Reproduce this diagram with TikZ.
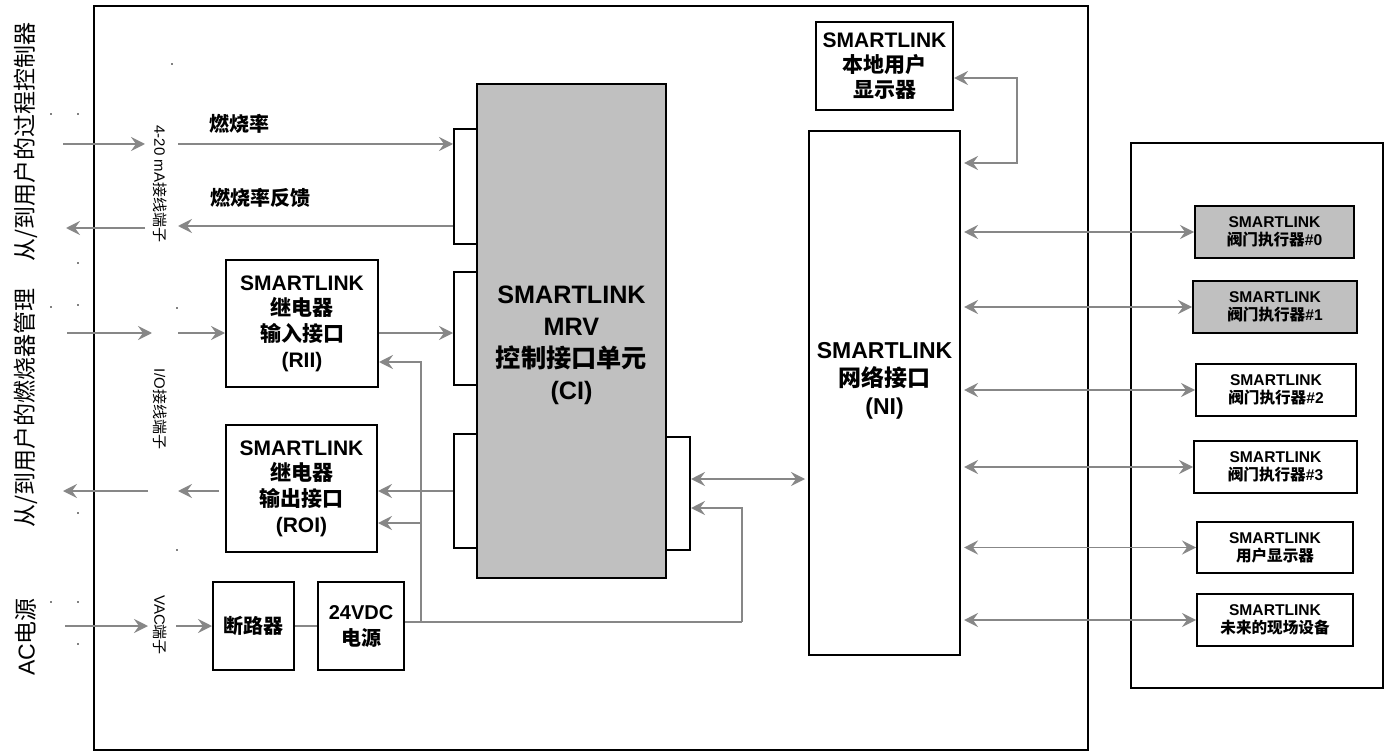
\documentclass[tikz,border=0pt]{standalone}
\usepackage{fontspec}
\setmainfont{Liberation Sans}
\newfontfamily\cjk{Noto Sans CJK SC}
\usetikzlibrary{arrows.meta}
\definecolor{lg}{RGB}{135,135,135}
\definecolor{cifill}{RGB}{192,192,192}
\newcommand\zh[1]{{\cjk #1}}
\newcommand\fs[2]{\fontsize{#1}{#2}\selectfont}
\begin{document}
\begin{tikzpicture}[x=0.5pt,y=-0.5pt,
 box/.style={draw, line width=1pt, fill=white, inner sep=0pt, align=center, font=\bfseries},
 tip/.tip={Stealth[length=7pt,width=7pt,inset=2.5pt]},
 arr/.style={draw=lg, line width=0.9pt, -tip},
 darr/.style={draw=lg, line width=0.9pt, tip-tip},
 gline/.style={draw=lg, line width=0.9pt},
 side/.style={font=\fs{11.5}{14}, rotate=90, inner sep=0pt},
 term/.style={font=\fs{7.5}{9}, rotate=-90, inner sep=0pt},
 dev/.style={box, minimum height=26pt, font=\bfseries\fs{7.8}{9}},
]
\useasboundingbox (0,0) rectangle (1386,754);

% containers
\node[box, line width=0.8pt, minimum width=497pt, minimum height=372pt] (main) at (591,378) {};
\node[box, line width=0.8pt, minimum width=126pt, minimum height=272.5pt] (ext) at (1257,415.5) {};

% control interface
\node[box, fill=cifill, minimum width=94.5pt, minimum height=247pt] (CI) at (571.5,331) {};
\node[align=center, font=\bfseries\fs{12.6}{16}] (CIt) at (571.5,345) {SMARTLINK\\MRV\\\zh{控制接口单元}\\(CI)};
\node[box, minimum width=11.5pt, minimum height=57.5pt] (t1) at (465.5,186.5) {};
\node[box, minimum width=11.5pt, minimum height=56.5pt] (t2) at (465.5,328.5) {};
\node[box, minimum width=11.5pt, minimum height=57pt] (t3) at (465.5,491) {};
\node[box, minimum width=12pt, minimum height=56.5pt] (t4) at (678,493.5) {};

% network interface
\node[box, minimum width=75.5pt, minimum height=262pt] (NI) at (884.5,393) {};
\node[align=center, font=\bfseries\fs{11.5}{14}] (NIt) at (884.5,381) {SMARTLINK\\\zh{网络接口}\\(NI)};
\node[box, minimum width=68.5pt, minimum height=44pt, font=\bfseries\fs{10.5}{12.5}] (LD) at (884.5,66) {SMARTLINK\\\zh{本地用户}\\\zh{显示器}};

% relay interfaces
\node[box, minimum width=76pt, minimum height=63.5pt, font=\bfseries\fs{10.5}{12.8}] (RII) at (302,323.5) {SMARTLINK\\\zh{继电器}\\\zh{输入接口}\\(RII)};
\node[box, minimum width=75.5pt, minimum height=63.5pt, font=\bfseries\fs{10.5}{12.8}] (ROI) at (301.5,488.5) {SMARTLINK\\\zh{继电器}\\\zh{输出接口}\\(ROI)};

% power
\node[box, minimum width=40.5pt, minimum height=44pt, font=\bfseries\fs{10}{12}] (BRK) at (253.5,626) {\zh{断路器}};
\node[box, minimum width=43pt, minimum height=44pt, font=\bfseries\fs{10}{13}] (PSU) at (361,626) {24VDC\\\zh{电源}};

% field devices
\node[dev, fill=cifill, minimum width=79.5pt] (D0) at (1274.5,232) {SMARTLINK\\\zh{阀门执行器}\#0};
\node[dev, fill=cifill, minimum width=82pt] (D1) at (1275,307) {SMARTLINK\\\zh{阀门执行器}\#1};
\node[dev, minimum width=80pt] (D2) at (1276,390) {SMARTLINK\\\zh{阀门执行器}\#2};
\node[dev, minimum width=81.5pt] (D3) at (1275.5,467) {SMARTLINK\\\zh{阀门执行器}\#3};
\node[dev, minimum width=78pt, minimum height=25.5pt] (D4) at (1275,547.5) {SMARTLINK\\\zh{用户显示器}};
\node[dev, minimum width=78pt] (D5) at (1275,620) {SMARTLINK\\\zh{未来的现场设备}};

% labels
\node[font=\bfseries\fs{10}{12}] (lb1) at (239,124) {\zh{燃烧率}};
\node[font=\bfseries\fs{10}{12}] (lb2) at (260,198) {\zh{燃烧率反馈}};
\node[term] (T1) at (160,184) {4-20 mA\zh{接线端子}};
\node[term] (T2) at (160,409) {I/O\zh{接线端子}};
\node[term] (T3) at (160,625) {VAC\zh{端子}};
\node[side] (S1) at (26,142) {\zh{从/到用户的过程控制器}};
\node[side] (S2) at (26,408) {\zh{从/到用户的燃烧器管理}};
\node[side] (S3) at (26,637) {AC\zh{电源}};

% free-end coordinates
\coordinate (a1) at (63,144);  \coordinate (a2) at (145,144); \coordinate (a3) at (178,144);
\coordinate (f1) at (178,226); \coordinate (f2) at (145,228); \coordinate (f3) at (66,228);
\coordinate (b1) at (67,333);  \coordinate (b2) at (152,333); \coordinate (b3) at (178,333);
\coordinate (o1) at (219,491); \coordinate (o2) at (178,491); \coordinate (o3) at (148,491); \coordinate (o4) at (63,491);
\coordinate (c1) at (65,626);  \coordinate (c2) at (148,626); \coordinate (c3) at (176,626);
\coordinate (j1) at (421,622); \coordinate (j2) at (742,622); \coordinate (j3) at (742,508);
\coordinate (j4) at (421,362); \coordinate (j5) at (421,523);
\coordinate (k) at (690,479);
\coordinate (l1) at (1017,78); \coordinate (l2) at (1017,163);

% process controller
\draw[arr] (a1) -- (a2);
\draw[arr] (a3) -- (a3 -| t1.west);
\draw[arr] (t1.west |- f1) -- (f1);
\draw[arr] (f2) -- (f3);
% burner management
\draw[arr] (b1) -- (b2);
\draw[arr] (b3) -- (b3 -| RII.west);
\draw[arr] (RII.east |- b3) -- (t2.west |- b3);
\draw[arr] (t3.west |- o1) -- (ROI.east |- o1);
\draw[arr] (o1) -- (o2);
\draw[arr] (o3) -- (o4);
% power
\draw[arr] (c1) -- (c2);
\draw[arr] (c3) -- (BRK.west);
\draw[gline] (BRK.east) -- (PSU.west);
\draw[gline] (PSU.east |- j1) -- (j2);
\draw[arr] (j2) -- (j3) -- (j3 -| t4.east);
\draw[arr] (j1) -- (j4) -- (j4 -| RII.east);
\draw[arr] (j5) -- (j5 -| ROI.east);
% network
\draw[darr, shorten >=1.5pt] (t4.east |- k) -- (NI.west |- k);
\draw[darr, shorten >=1.5pt] (LD.east |- l1) -- (l1) -- (l2) -- (NI.east |- l2);
\foreach \d in {D0,D1,D2,D3,D4,D5}
  \draw[darr, shorten <=1.5pt] (NI.east |- \d.west) -- (\d.west);

% stray dots
\foreach \p in {(172,64),(51,114),(78,114),(78,263),(51,307),(78,305),(177,308),(78,513),(177,550),(51,602),(78,602),(78,644)}
  \fill \p circle (0.8);
\end{tikzpicture}
\end{document}
